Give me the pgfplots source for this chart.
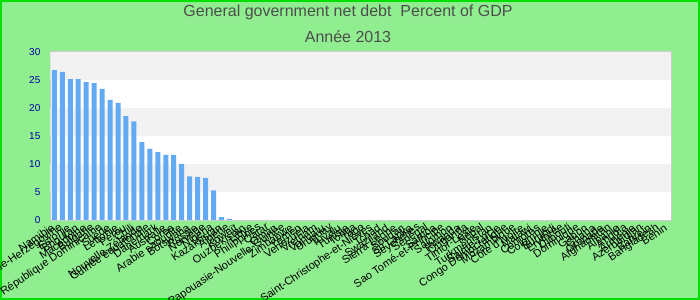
\documentclass[border=0pt]{standalone}
\usepackage{fontspec}
\setmainfont{Liberation Sans}
\usepackage{pgfplots}
\pgfplotsset{compat=1.18}
\definecolor{bg}{RGB}{144,238,144}
\definecolor{bord}{RGB}{0,225,0}
\definecolor{barc}{RGB}{99,170,244}
\definecolor{band}{RGB}{242,242,242}
\definecolor{ticklab}{RGB}{0,0,160}
\definecolor{titlec}{RGB}{77,77,77}
\begin{document}
\begin{tikzpicture}[x=1pt,y=1pt]
\fill[bg] (0,0) rectangle (525,225);
\draw[bord,line width=1.2pt] (0.6,0.6) rectangle (524.4,224.4);
\useasboundingbox (0,0) rectangle (525,225);
\node[font=\fontsize{12}{14}\selectfont, text=titlec] at (261,215.5) {General government net debt\ \ Percent of GDP};
\node[font=\fontsize{12}{14}\selectfont, text=titlec] at (261,197.5) {Année 2013};
\begin{axis}[
  at={(37.8pt,60pt)}, anchor=south west,
  scale only axis, width=465.5pt, height=126.2pt,
  xmin=-0.5, xmax=77.5, ymin=0, ymax=30,
  ytick={0,5,10,15,20,25,30},
  xtick={0,...,77},
  xticklabels={Namibie,Bosnie-Herzégovine,Estonie,Bhoutan,Macédoine,Bulgarie,République Dominicaine,Suède,Lettonie,Pérou,Chili,Nouvelle-Zélande,Guinée équatoriale,Danemark,Australie,Corée,Arabie saoudite,Botswana,Russie,Norvège,Nigeria,Kazakhstan,Algérie,Koweït,Ouzbékistan,Libye,Philippines,Qatar,Oman,Papouasie-Nouvelle-Guinée,Zimbabwe,Yémen,Venezuela,Vietnam,Vanuatu,Uruguay,Tuvalu,Tunisie,Tonga,Togo,Saint-Christophe-et-Niévès,Tchad,Swaziland,Sierra Leone,Soudan,Sri Lanka,Seychelles,Sénégal,Samoa,Sao Tomé-et-Principe,Salomon,Rwanda,Ouganda,Timor-Leste,Népal,Turkménistan,Sainte-Lucie,Congo Démocratique,Mozambique,Côte d'Ivoire,Malawi,Comores,Colombie,Burundi,Erythrée,Djibouti,Dominique,Gabon,Ghana,Grenade,Afghanistan,Albanie,Angola,Arménie,Azerbaïdjan,Bahreïn,Bangladesh,Bénin},
  x tick label style={rotate=34, anchor=east, font=\fontsize{8.25}{9}\selectfont, text=black, yshift=-3.5pt},
  yticklabel style={font=\fontsize{7.5}{9}\selectfont, text=ticklab, xshift=-4pt},
  /pgf/number format/assume math mode=true,
  major tick length=0pt,
  axis line style={draw=black!20},
  axis background/.style={fill=white},
  ybar, bar width=3.75pt,
]
\fill[band] (axis cs:-0.5,5) rectangle (axis cs:77.5,10);
\fill[band] (axis cs:-0.5,15) rectangle (axis cs:77.5,20);
\fill[band] (axis cs:-0.5,25) rectangle (axis cs:77.5,30);
\addplot[fill=barc, draw=none] coordinates {
(0,26.7) (1,26.4) (2,25.1) (3,25.1) (4,24.6) (5,24.4) (6,23.4) (7,21.4) (8,20.9) (9,18.5)
(10,17.6) (11,13.9) (12,12.7) (13,12.1) (14,11.6) (15,11.6) (16,10.0) (17,7.8) (18,7.7) (19,7.5)
(20,5.3) (21,0.5) (22,0.2) (23,0) (24,0) (25,0) (26,0) (27,0) (28,0) (29,0)
(30,0) (31,0) (32,0) (33,0) (34,0) (35,0) (36,0) (37,0) (38,0) (39,0)
(40,0) (41,0) (42,0) (43,0) (44,0) (45,0) (46,0) (47,0) (48,0) (49,0)
(50,0) (51,0) (52,0) (53,0) (54,0) (55,0) (56,0) (57,0) (58,0) (59,0)
(60,0) (61,0) (62,0) (63,0) (64,0) (65,0) (66,0) (67,0) (68,0) (69,0)
(70,0) (71,0) (72,0) (73,0) (74,0) (75,0) (76,0) (77,0)
};
\end{axis}
\end{tikzpicture}
\end{document}
